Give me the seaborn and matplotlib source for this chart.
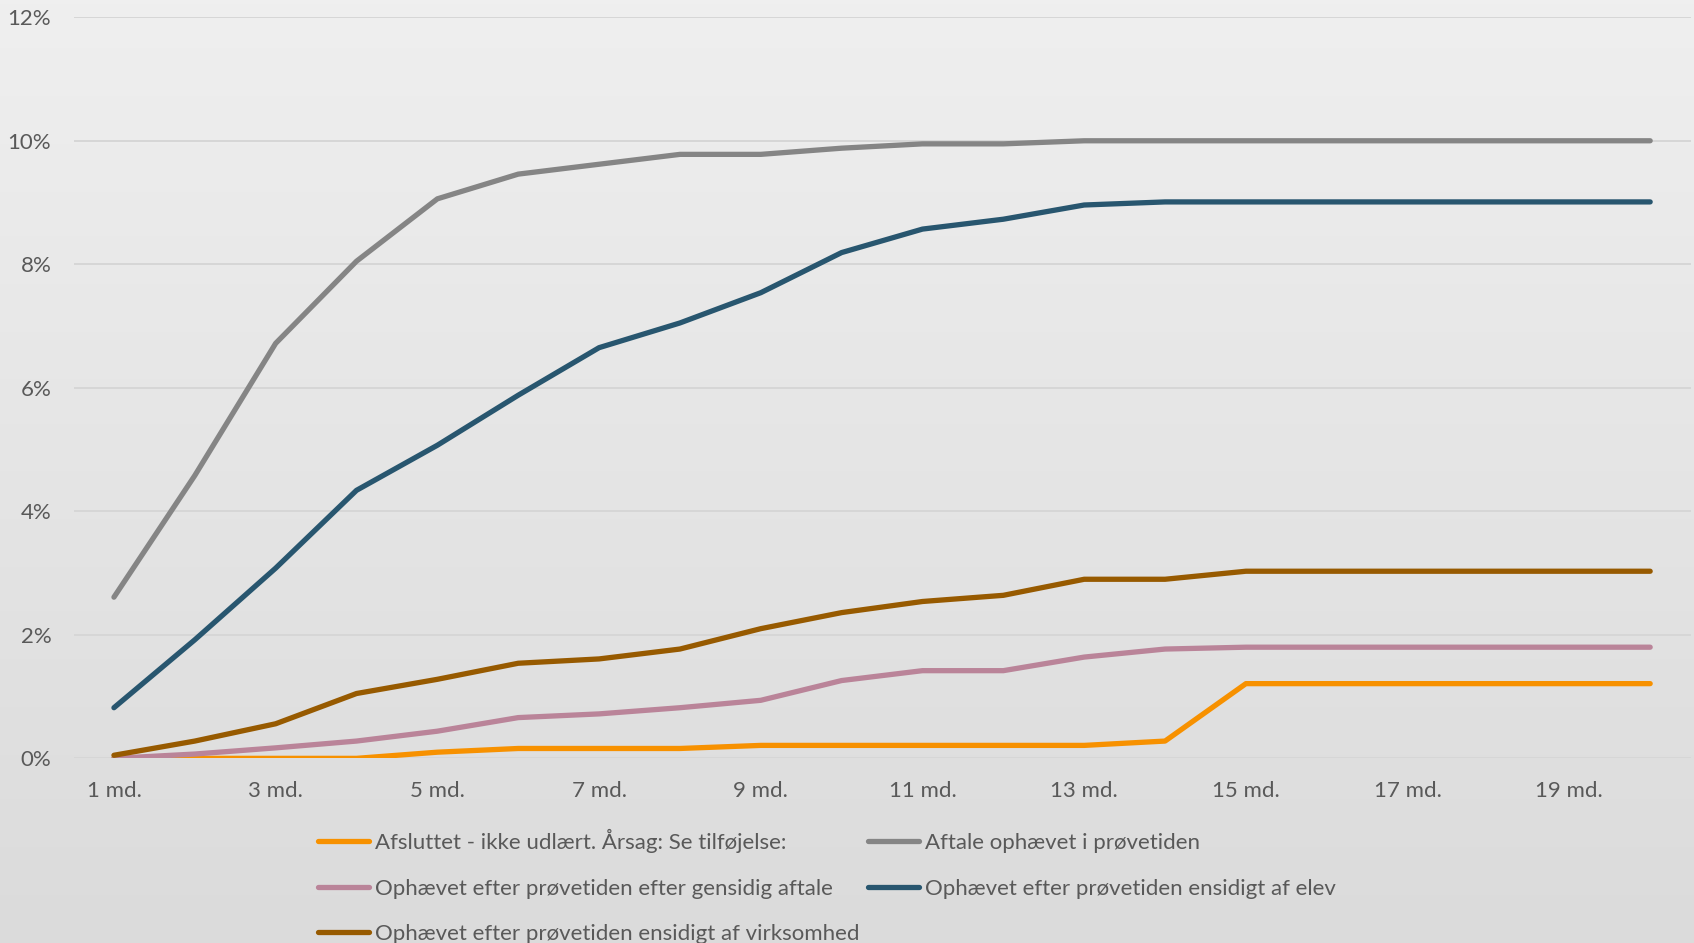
import numpy as np
import pandas as pd
import matplotlib
matplotlib.use('Agg')
import matplotlib.pyplot as plt
import seaborn as sns
from matplotlib.lines import Line2D

# Months 1..20 and the tick labels shown on the x axis
months = list(range(1, 21))
tick_months = [1, 3, 5, 7, 9, 11, 13, 15, 17, 19]
tick_labels = [f'{m} md.' for m in tick_months]

# Cumulative share (%) per series
afsluttet = [0, 0, 0, 0, 0.10, 0.16, 0.16, 0.16, 0.21, 0.21,
             0.21, 0.21, 0.21, 0.28, 1.21, 1.21, 1.21, 1.21, 1.21, 1.21]
proevetid = [2.61, 4.58, 6.72, 8.05, 9.06, 9.46, 9.62, 9.78, 9.78, 9.88,
             9.95, 9.95, 10.0, 10.0, 10.0, 10.0, 10.0, 10.0, 10.0, 10.0]
gensidig = [0, 0.07, 0.17, 0.28, 0.44, 0.66, 0.72, 0.82, 0.94, 1.26,
            1.42, 1.42, 1.64, 1.77, 1.80, 1.80, 1.80, 1.80, 1.80, 1.80]
elev = [0.82, 1.92, 3.08, 4.34, 5.07, 5.88, 6.65, 7.05, 7.54, 8.19,
        8.57, 8.73, 8.96, 9.01, 9.01, 9.01, 9.01, 9.01, 9.01, 9.01]
virksomhed = [0.05, 0.28, 0.56, 1.05, 1.28, 1.54, 1.61, 1.77, 2.10, 2.36,
              2.54, 2.64, 2.90, 2.90, 3.03, 3.03, 3.03, 3.03, 3.03, 3.03]

names = ['Afsluttet - ikke udlært. Årsag: Se tilføjelse:',
         'Aftale ophævet i prøvetiden',
         'Ophævet efter prøvetiden efter gensidig aftale',
         'Ophævet efter prøvetiden ensidigt af elev',
         'Ophævet efter prøvetiden ensidigt af virksomhed']
colors = ['#F79100', '#858585', '#BA8499', '#28566F', '#975A00']

# long format table for seaborn
frames = []
for name, vals in zip(names, [afsluttet, proevetid, gensidig, elev, virksomhed]):
    frames.append(pd.DataFrame({'month': months, 'value': vals, 'serie': name}))
df = pd.concat(frames, ignore_index=True)

sns.set_style('white')
plt.rcParams['font.family'] = ['Lato', 'DejaVu Sans']

fig = plt.figure(figsize=(16.94, 9.43), dpi=100)

# background gradient
bg = fig.add_axes([0, 0, 1, 1], zorder=-10)
grad = np.linspace(0, 1, 256).reshape(-1, 1)
top = np.array([239, 239, 239]) / 255
bot = np.array([219, 219, 219]) / 255
img = top + (bot - top) * grad[..., None]
bg.imshow(img, aspect='auto', extent=[0, 1, 0, 1])
bg.axis('off')

ax = fig.add_axes([0.0434, 0.1958, 0.9546, 0.7859])
ax.patch.set_alpha(0)

sns.lineplot(data=df, x='month', y='value', hue='serie', hue_order=names,
             palette=dict(zip(names, colors)), linewidth=3.8, ax=ax,
             legend=False)
for line in ax.lines:
    line.set_solid_capstyle('round')
    line.set_solid_joinstyle('round')

ax.set_xlim(0.5, 20.5)
ax.set_ylim(0, 12)
ax.set_yticks(range(0, 13, 2))
ax.set_yticklabels([f'{v}%' for v in range(0, 13, 2)])
ax.set_xticks(tick_months)
ax.set_xticklabels(tick_labels)
ax.set_xlabel('')
ax.set_ylabel('')
ax.grid(axis='y', color='#D6D6D6', linewidth=1.4)
ax.set_axisbelow(True)
for s in ax.spines.values():
    s.set_visible(False)
ax.tick_params(axis='both', length=0, labelsize=16, labelcolor='#595959')
ax.tick_params(axis='x', pad=16)
ax.tick_params(axis='y', pad=16)

# legend, filled row by row like the original
order = [0, 2, 4, 1, 3]
handles = [Line2D([0], [0], color=colors[i], lw=3.8, solid_capstyle='round') for i in order]
labels = [names[i] for i in order]
fig.legend(handles, labels, ncol=2, loc='upper left',
           bbox_to_anchor=(0.1878, 0.121), frameon=False, fontsize=16,
           labelcolor='#595959', handlelength=2.3, handletextpad=0.25,
           columnspacing=0.4, labelspacing=1.15, borderpad=0, borderaxespad=0)

fig.savefig('out.png', dpi=100)
